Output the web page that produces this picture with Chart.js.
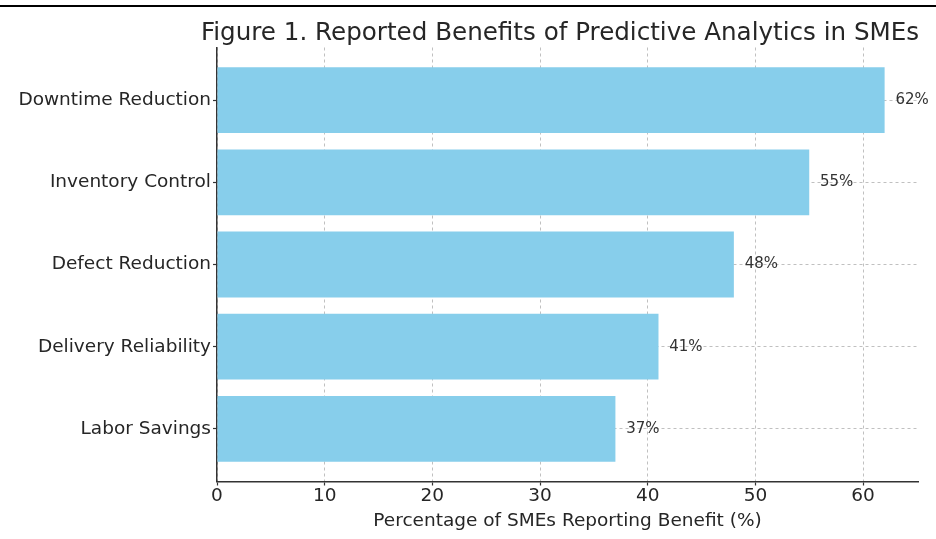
<!DOCTYPE html>
<html>
<head>
<meta charset="utf-8">
<script src="https://cdn.jsdelivr.net/npm/chart.js@4"></script>
<style>
  html, body { margin: 0; padding: 0; background: #fff; }
  #wrap { width: 936px; height: 539px; position: relative; }
</style>
</head>
<body>
<div id="wrap"><canvas id="benefitsChart"></canvas></div>
<script>
// values, top to bottom
const categories = ["Downtime Reduction", "Inventory Control", "Defect Reduction", "Delivery Reliability", "Labor Savings"];
const benefitValues = [62, 55, 48, 41, 37];
const xTickValues = [0, 10, 20, 30, 40, 50, 60];
const chartTitle = "Figure 1. Reported Benefits of Predictive Analytics in SMEs";
const xAxisTitle = "Percentage of SMEs Reporting Benefit (%)";

const FONT = "DejaVu Sans";
const TEXT = "#262626";
const GRID = "rgba(150,150,150,0.6)";

// bar end labels + title + the page rule cut at the top
const extras = {
  id: "extras",
  beforeDraw(chart) {
    const ctx = chart.ctx;
    ctx.save();
    ctx.fillStyle = "#fff";
    ctx.fillRect(0, 0, chart.width, chart.height);
    ctx.fillStyle = "#000";
    ctx.fillRect(0, 5, chart.width, 2);
    ctx.restore();
  },
  afterDraw(chart) {
    const ctx = chart.ctx;
    const xs = chart.scales.x, ys = chart.scales.y;
    ctx.save();
    ctx.font = "15px '" + FONT + "'";
    ctx.fillStyle = "#333";
    ctx.textAlign = "left";
    ctx.textBaseline = "middle";
    benefitValues.forEach((v, i) => {
      ctx.fillText(v + "%", xs.getPixelForValue(v + 1), ys.getPixelForValue(i));
    });
    ctx.font = "24.6px '" + FONT + "'";
    ctx.fillStyle = TEXT;
    ctx.textAlign = "center";
    ctx.textBaseline = "alphabetic";
    ctx.fillText(chartTitle, 560, 40);
    ctx.restore();
  }
};

new Chart(document.getElementById("benefitsChart"), {
  type: "bar",
  data: {
    datasets: [{
      data: benefitValues.map((v, i) => ({ x: v, y: i })),
      backgroundColor: "#87CEEB",
      borderWidth: 0,
      barPercentage: 0.8,
      categoryPercentage: 1.0
    }]
  },
  options: {
    indexAxis: "y",
    responsive: true,
    maintainAspectRatio: false,
    animation: false,
    layout: { padding: { left: 0, right: 18, top: 47.5, bottom: 0 } },
    plugins: { legend: { display: false }, tooltip: { enabled: false }, title: { display: false } },
    scales: {
      x: {
        type: "linear",
        min: 0,
        max: 65.1,
        z: 1,
        afterBuildTicks: s => { s.ticks = xTickValues.map(v => ({ value: v })); },
        afterFit: s => { s.height = 57.5; },
        ticks: { font: { family: FONT, size: 18.5 }, color: TEXT, padding: 0 },
        grid: {
          color: GRID, lineWidth: 1,
          tickColor: "#333", tickLength: 4, tickWidth: 1.2, tickBorderDash: []
        },
        border: { color: "#333", width: 1.5, dash: [3, 3] },
        title: { display: true, text: xAxisTitle, font: { family: FONT, size: 18.5 }, color: TEXT, padding: { top: 0, bottom: 7 } }
      },
      y: {
        type: "linear",
        min: -0.64,
        max: 4.64,
        reverse: true,
        offset: false,
        z: 1,
        afterBuildTicks: s => { s.ticks = categories.map((c, i) => ({ value: i })); },
        afterFit: s => { s.width = 217; },
        ticks: { font: { family: FONT, size: 18.5 }, color: TEXT, padding: 2, callback: v => categories[v] },
        grid: {
          offset: false,
          color: GRID, lineWidth: 1,
          tickColor: "#333", tickLength: 4, tickWidth: 1.2, tickBorderDash: []
        },
        border: { color: "#333", width: 1.5, dash: [3, 3] }
      }
    }
  },
  plugins: [extras]
});
</script>
</body>
</html>
